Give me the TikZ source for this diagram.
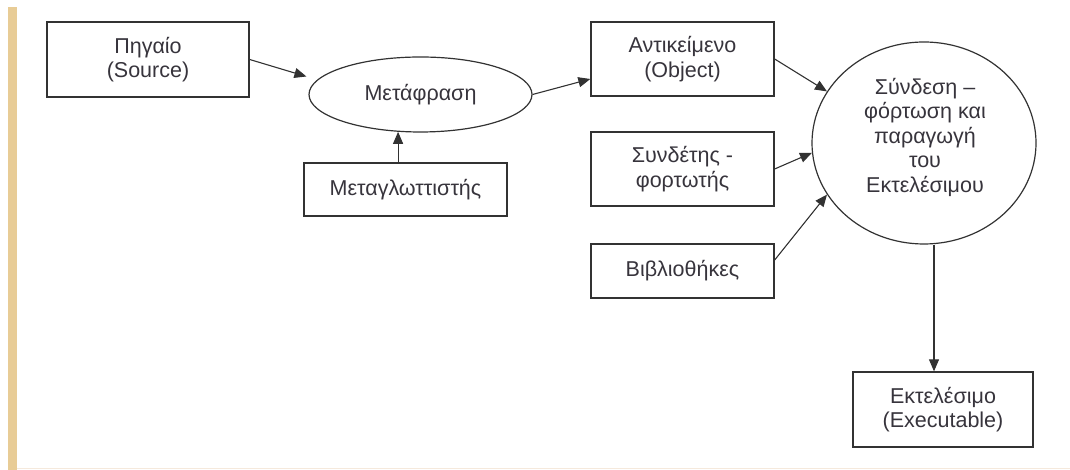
\documentclass[tikz,border=0pt]{standalone}
\usepackage{fontspec}
\setmainfont{Liberation Sans}
\usetikzlibrary{arrows.meta,shapes.geometric}
\definecolor{tan}{RGB}{232,204,150}
\definecolor{txt}{RGB}{55,52,60}
\definecolor{edge}{RGB}{50,50,50}
\definecolor{faint}{RGB}{245,233,220}
\begin{document}
\begin{tikzpicture}[x=1pt,y=1pt,
  every node/.style={font=\fontsize{21.5}{24.5}\selectfont, text=txt, align=center, inner sep=0pt},
  box/.style={draw=edge, line width=1.3pt, rectangle},
  oval/.style={draw=edge, line width=1.2pt, ellipse},
  arr/.style={draw=edge, line width=1.1pt, -{Triangle[length=12pt,width=10pt]}}]
\useasboundingbox (0,0) rectangle (1070,470);
\fill[tan] (8,0) rectangle (17,463);
\draw[faint, line width=1pt] (17,1.5) -- (1070,1.5);
\node[box, minimum width=202, minimum height=75] (src) at (148,410.5) {Πηγαίο\\(Source)};
\node[oval, minimum width=223, minimum height=75] (met) at (420.5,375.5) {Μετάφραση};
\node[box, minimum width=203, minimum height=53] (comp) at (405.5,280.5) {Μεταγλωττιστής};
\node[box, minimum width=183, minimum height=74] (obj) at (682.5,411) {Αντικείμενο\\(Object)};
\node[box, minimum width=183, minimum height=74] (link) at (682.5,301) {Συνδέτης -\\φορτωτής};
\node[box, minimum width=183, minimum height=54] (lib) at (682.5,199) {Βιβλιοθήκες};
\node[oval, minimum width=224, minimum height=202] (circ) at (924,327) {};
\node (circt) at (925,333) {Σύνδεση –\\φόρτωση και\\παραγωγή\\του\\Εκτελέσιμου};
\node[box, minimum width=180, minimum height=75] (exe) at (943,60.5) {Εκτελέσιμο\\(Executable)};
\draw[arr] (src.east) -- ([shift={(-2,18)}]met.west);
\draw[arr] (comp.north -| met.-121) -- (met.-121);
\draw[arr] (met.east) -- ([yshift=-20]obj.west);
\draw[arr] (obj.east) -- (circ.152);
\draw[arr] (link.east) -- (circ.185);
\draw[arr] ([yshift=11]lib.east) -- (circ.208);
\draw[arr] ([xshift=10]circ.south) -- ([xshift=-9]exe.north);
\end{tikzpicture}
\end{document}
